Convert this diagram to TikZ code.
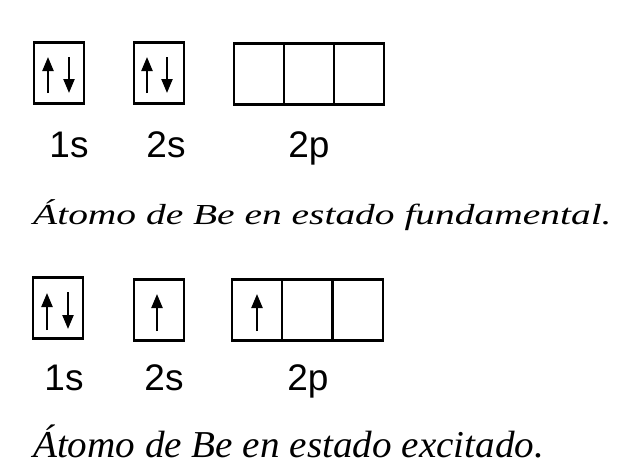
\documentclass[tikz,border=0pt]{standalone}
\usepackage{fontspec}
\setmainfont{Liberation Serif}
\setsansfont{Liberation Sans}
\usepackage{graphicx}
\usepackage{tikz}
\usetikzlibrary{arrows.meta}
\tikzstyle{orbital} = [draw=black, line width=2.5pt, rectangle, minimum width=50pt, minimum height=61pt, inner sep=0pt]
\tikzstyle{spin} = [line width=2.2pt, -{Triangle[length=14pt,width=11pt]}]
\tikzstyle{sublevel} = [font=\fontsize{37}{40}\selectfont\sffamily, anchor=base, inner sep=0pt]
\tikzstyle{caption} = [anchor=base west, inner sep=0pt]

\begin{document}
\begin{tikzpicture}[x=1pt, y=-1pt]
    \fill[white] (0,0) rectangle (640,474);
    \useasboundingbox (0,0) rectangle (640,474);

    %Estado fundamental
    \node [orbital] (fa1s) at (59,73) {};
    \node [orbital] (fa2s) at (159,73) {};
    \node [orbital] (fa2px) at (259,74) {};
    \node [orbital] (fa2py) at (309,74) {};
    \node [orbital] (fa2pz) at (359,74) {};
    \draw [spin] ([shift={(-11,20)}]fa1s.center) -- ++(0,-36);
    \draw [spin] ([shift={(10,-16)}]fa1s.center) -- ++(0,36);
    \draw [spin] ([shift={(-12,20)}]fa2s.center) -- ++(0,-36);
    \draw [spin] ([shift={(8,-16)}]fa2s.center) -- ++(0,36);
    \node [sublevel] (fl1s) at (69,157) {1s};
    \node [sublevel] (fl2s) at (166,157) {2s};
    \node [sublevel] (fl2p) at (309,157) {2p};
    \node [caption] (fcap) at (33,224) {\fontsize{29}{32}\selectfont\itshape\scalebox{1.36}[1]{Átomo de Be en estado fundamental.}};

    %Estado excitado
    \node [orbital] (ex1s) at (58,308) {};
    \node [orbital] (ex2s) at (159,310) {};
    \node [orbital] (ex2px) at (257,310) {};
    \node [orbital] (ex2py) at (307,310) {};
    \node [orbital] (ex2pz) at (358,310) {};
    \draw [spin] ([shift={(-11,22)}]ex1s.center) -- ++(0,-37);
    \draw [spin] ([shift={(10,-16)}]ex1s.center) -- ++(0,37);
    \draw [spin] ([shift={(-2,21)}]ex2s.center) -- ++(0,-37);
    \draw [spin] ([shift={(0,21)}]ex2px.center) -- ++(0,-37);
    \node [sublevel] (el1s) at (64,390) {1s};
    \node [sublevel] (el2s) at (164,390) {2s};
    \node [sublevel] (el2p) at (308,390) {2p};
    \node [caption] (ecap) at (33,457) {\fontsize{38}{42}\selectfont\itshape\scalebox{1.03}[1]{Átomo de Be en estado excitado.}};
\end{tikzpicture}
\end{document}
